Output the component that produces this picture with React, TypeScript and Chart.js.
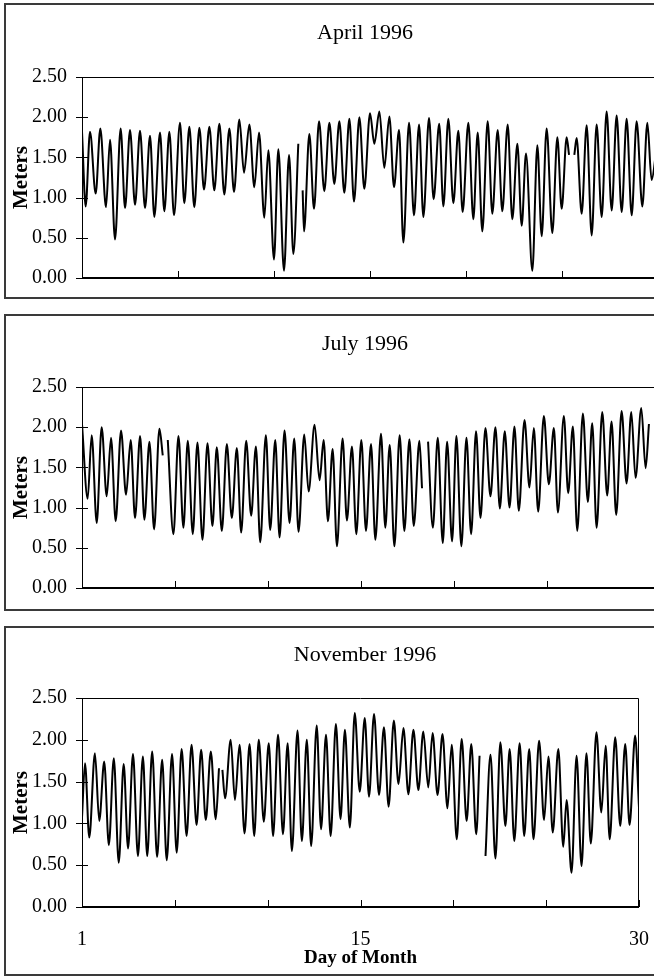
import React, { useEffect, useRef } from "react";
import { Chart, registerables } from "chart.js";

Chart.register(...registerables);

// ---- data (hours since start of month, water level in meters; null = gap) ----
const aprilHours = [
  0, 4.6, 10, 17.1, 22.9, 30, 35, 41.3, 48.3, 53.8, 60, 66.3, 72.5, 78.8, 85, 90.4, 97.5, 102.9, 109.2, 115,
  122.5, 127.9, 134.2, 140.4, 146.7, 152.5, 159.2, 165.4, 171.7, 177.9, 184.2, 190, 196.7, 202.5, 209.2, 215.4,
  221.3, 227.9, 232.9, 240, 245.4, 252.5, 258.8, 264.2, 270.4, 273, 275.8, 277.5, 284.2, 290, 296.3, 302.9, 309.2,
  315.4, 321.7, 327.9, 334.2, 340, 346.7, 352.9, 360, 365.4, 371.7, 377.9, 384.2, 390, 396.3, 401.7, 408.8, 415,
  421.3, 426.7, 433.8, 439.5, 446.5, 451.7, 457.9, 464.2, 470.4, 475.8, 482.9, 489.2, 494.6, 500.4, 507.1, 512.9,
  519.6, 525.4, 532.1, 537.9, 544.2, 549.6, 555, 562.9, 569.2, 574.6, 580.8, 587.9, 594.2, 599.6, 605.8, 608.8,
  612, 615.4, 618.3, 624.6, 630.8, 637.1, 643.3, 649.6, 655.8, 662.1, 668.3, 674.6, 680.8, 687.1, 693.3, 700.4,
  706.7, 712, 718,
];
const aprilLevels = [
  1.82, 0.89, 1.82, 1.05, 1.86, 0.88, 1.72, 0.48, 1.86, 0.87, 1.84, 0.91, 1.83, 0.87, 1.77, 0.76, 1.81, 0.83, 1.82, 0.78,
  1.93, 0.93, 1.88, 0.88, 1.87, 1.1, 1.88, 1.09, 1.92, 1.04, 1.86, 1.07, 1.97, 1.31, 1.91, 1.13,
  1.81, 0.75, 1.59, 0.23, 1.6, 0.09, 1.53, 0.3, 1.67, null, 1.09, 0.58, 1.79, 0.86, 1.95, 1.08, 1.93,
  1.17, 1.95, 1.06, 1.98, 0.95, 2.0, 1.11, 2.05, 1.67, 2.07, 1.37, 2.01, 1.13, 1.84, 0.44, 1.93, 0.78,
  1.91, 0.76, 1.99, 0.98, 1.92, 0.89, 1.98, 0.93, 1.83, 0.82, 1.93, 0.73, 1.81, 0.58, 1.95, 0.8,
  1.84, 0.83, 1.91, 0.73, 1.67, 0.65, 1.55, 0.09, 1.65, 0.52, 1.86, 0.56, 1.75, 0.86, 1.75, 1.53,
  null, 1.53, 1.74, 0.8, 1.9, 0.53, 1.91, 0.76, 2.07, 0.84, 2.02, 0.82, 1.98, 0.78, 1.95, 0.89,
  1.93, 1.22, 1.6,
];

const julyHours = [
  0, 7.3, 12.5, 19, 25.4, 31.9, 37.5, 43.5, 50.4, 56.9, 62.9, 68.5, 75, 80.6, 87.1, 93.1, 100, 104.3, 107, 110.8,
  118.1, 124.6, 131, 136.6, 143.1, 149.1, 155.6, 162.1, 168.5, 174.1, 180.6, 187.1, 193.5, 200, 205.6, 212.1,
  218.5, 224.6, 230.2, 237.5, 243.1, 249.6, 255.2, 261.6, 268.1, 274.1, 279.7, 287.1, 292.7, 300.4, 306.9, 312.1,
  317.7, 323.7, 329.3, 336.6, 342.2, 348.7, 354.3, 360.8, 366.8, 373.3, 378.9, 386.2, 391.8, 397.4, 403.5, 410.3,
  416.4, 422.9, 428.5, 435.8, 439.2, 443, 447, 453.2, 459.5, 466, 471.6, 478, 483.6, 490, 496.6, 502.6, 509,
  514.7, 521.1, 527.6, 534, 539.7, 546.1, 552.2, 558.6, 564.2, 571.6, 578, 583.6, 589.2, 596.6, 603, 609.5,
  614.7, 622.4, 628, 634, 639.7, 647, 653.4, 659, 664.7, 672, 678.4, 684, 690, 697, 703.4, 709.5, 715, 722.4,
  728, 732.3,
];
const julyLevels = [
  2.04, 1.11, 1.9, 0.81, 2.0, 1.14, 1.87, 0.83, 1.96, 1.16, 1.84, 0.87, 1.89, 0.85, 1.82, 0.73, 1.98, 1.65, null, 1.84,
  0.67, 1.89, 0.75, 1.83, 0.67, 1.81, 0.6, 1.8, 0.77, 1.75, 0.71, 1.79, 0.87, 1.74, 0.69, 1.83,
  0.9, 1.76, 0.57, 1.9, 0.72, 1.84, 0.63, 1.96, 0.81, 1.86, 0.7, 1.91, 1.2, 2.03, 1.34, 1.84,
  0.83, 1.73, 0.52, 1.86, 0.84, 1.76, 0.67, 1.84, 0.71, 1.79, 0.6, 1.92, 0.75, 1.78, 0.52, 1.9,
  0.71, 1.85, 0.77, 1.83, 1.24, null, 1.82, 0.75, 1.87, 0.56, 1.82, 0.58, 1.89, 0.52, 1.87, 0.67, 1.95,
  0.87, 1.99, 1.14, 2.0, 0.99, 1.95, 1.0, 2.01, 0.96, 2.09, 1.25, 1.99, 0.95, 2.14, 1.29, 1.99,
  0.94, 2.14, 1.18, 2.01, 0.71, 2.17, 1.07, 2.05, 0.75, 2.19, 1.15, 2.07, 0.91, 2.2, 1.3, 2.19, 1.37, 2.24,
  1.49, 2.04,
];

const novemberHours = [
  0, 3.9, 9.4, 16.7, 22.3, 28.7, 34.7, 41.1, 47.5, 53.9, 59.5, 65.9, 72.3, 78.7, 84.3, 90.7, 97.1, 103.6, 109.5,
  116.4, 122.4, 128.8, 135.2, 141.6, 148.1, 154, 160, 166.5, 172.9, 177.1, 179, 181.5, 184.9, 192.2, 197.7,
  203.7, 210.1, 216.6, 222.6, 228.5, 235, 241.4, 247, 253.4, 259.8, 265.8, 271.3, 278.6, 284.2, 290.6, 296.2,
  303.4, 309, 315.4, 321.4, 328.2, 334.2, 339.8, 346.2, 352.6, 359, 365.5, 371, 377.5, 383.9, 390.3, 396.3,
  403.1, 409.1, 415.5, 421.9, 428.4, 434.8, 441.2, 447.6, 453.2, 459.6, 466, 472.4, 477.9, 484.4, 490.8, 497.2,
  503.2, 509.6, 513.9, 517, 521.6, 528, 534.4, 540.8, 547.3, 552.8, 558.8, 565.7, 571.6, 578.1, 583.6, 590.9,
  597.3, 602.9, 608.5, 615.7, 622.1, 626.4, 632.8, 639.3, 645.7, 652.1, 657.7, 665, 671.3, 676.9, 682.1, 689.3,
  695.7, 702.2, 707.8, 715, 720,
];
const novemberLevels = [
  1.07, 1.72, 0.83, 1.84, 1.03, 1.74, 0.74, 1.78, 0.53, 1.71, 0.7, 1.83, 0.61, 1.8, 0.61, 1.86, 0.6, 1.76, 0.56,
  1.83, 0.65, 1.89, 0.85, 1.94, 0.98, 1.88, 1.04, 1.86, 1.05, 1.66, null, 1.64, 1.3, 2.0, 1.28,
  1.94, 0.88, 1.95, 0.85, 2.0, 1.02, 1.96, 0.85, 2.06, 0.87, 1.96, 0.67, 2.11, 0.79, 2.0, 0.73,
  2.17, 0.93, 2.06, 0.85, 2.19, 1.05, 2.12, 0.95, 2.32, 1.38, 2.26, 1.32, 2.31, 1.34, 2.15, 1.2,
  2.23, 1.47, 2.14, 1.35, 2.12, 1.4, 2.1, 1.43, 2.08, 1.34, 2.07, 1.18, 1.94, 0.81, 2.01, 1.03,
  1.95, 0.87, 1.81, null, 0.61, 1.82, 0.58, 1.97, 0.97, 1.89, 0.79, 1.96, 0.85, 1.89, 0.81, 1.99,
  1.04, 1.8, 0.89, 1.89, 0.72, 1.28, 0.41, 1.81, 0.49, 1.84, 0.76, 2.09, 1.13, 1.93, 0.81, 2.03,
  0.97, 1.95, 0.98, 2.05, 1.19,
];

const panelTitles = ["April 1996", "July 1996", "November 1996"];
const monthLengthHours = [720, 744, 720];
const levelTickValues = [0, 0.5, 1, 1.5, 2, 2.5];
const dayTickHours = [0, 360, 720];
const dayTickLabels = ["1", "15", "30"];
const yAxisTitle = "Meters";
const xAxisTitle = "Day of Month";

// ---- layout ----
const CANVAS_W = 670;
const SERIF = '"Liberation Serif", "Times New Roman", serif';

type PanelCfg = {
  top: number;
  height: number;
  boxTop: number;
  boxBottom: number;
  plotTop: number;
  plotBottom: number;
  plotRight: number;
  titleY: number;
  hours: number[];
  levels: (number | null)[];
  title: string;
  xMax: number;
  showX: boolean;
};

const panels: PanelCfg[] = [
  { top: 0, height: 305, boxTop: 4, boxBottom: 298, plotTop: 77, plotBottom: 279, plotRight: 658, titleY: 33,
    hours: aprilHours, levels: aprilLevels, title: panelTitles[0], xMax: monthLengthHours[0], showX: false },
  { top: 305, height: 310, boxTop: 10, boxBottom: 305, plotTop: 82, plotBottom: 286, plotRight: 658, titleY: 39,
    hours: julyHours, levels: julyLevels, title: panelTitles[1], xMax: monthLengthHours[1], showX: false },
  { top: 615, height: 362, boxTop: 12, boxBottom: 360, plotTop: 83, plotBottom: 292, plotRight: 643, titleY: 40,
    hours: novemberHours, levels: novemberLevels, title: panelTitles[2], xMax: monthLengthHours[2], showX: true },
];

function Panel({ cfg }: { cfg: PanelCfg }) {
  const ref = useRef<HTMLCanvasElement | null>(null);
  useEffect(() => {
    const canvas = ref.current;
    if (!canvas) return;
    const data = cfg.hours.map((h, i) => ({ x: h, y: cfg.levels[i] }));
    const H = cfg.height;

    const framePlugin = {
      id: "frame" + cfg.title.replace(/\s/g, ""),
      beforeDraw(chart: any) {
        const ctx = chart.ctx;
        ctx.save();
        ctx.fillStyle = "#fff";
        ctx.fillRect(0, 0, chart.width, chart.height);
        ctx.restore();
      },
      afterDraw(chart: any) {
        const { ctx, chartArea: a, scales } = chart;
        ctx.save();
        // outer chart box
        ctx.strokeStyle = "#3a3a3a";
        ctx.lineWidth = 2;
        ctx.strokeRect(5, cfg.boxTop, 655, cfg.boxBottom - cfg.boxTop);
        // plot frame
        ctx.strokeStyle = "#000";
        ctx.lineWidth = 1;
        ctx.beginPath();
        ctx.moveTo(a.left + 0.5, a.bottom);
        ctx.lineTo(a.left + 0.5, a.top + 0.5);
        ctx.lineTo(a.right - 0.5, a.top + 0.5);
        ctx.lineTo(a.right - 0.5, a.bottom);
        ctx.stroke();
        ctx.lineWidth = 2;
        ctx.beginPath();
        ctx.moveTo(a.left, a.bottom);
        ctx.lineTo(a.right, a.bottom);
        ctx.stroke();
        // y tick marks (cross)
        ctx.lineWidth = 1;
        for (const t of scales.y.ticks) {
          const py = Math.round(scales.y.getPixelForValue(t.value)) + 0.5;
          ctx.beginPath();
          ctx.moveTo(a.left - 6, py);
          ctx.lineTo(a.left + 6, py);
          ctx.stroke();
        }
        // x tick marks (inside)
        for (const t of scales.x.ticks) {
          if (t.value % 120 !== 0) continue;
          const px = Math.round(scales.x.getPixelForValue(t.value)) + 0.5;
          ctx.beginPath();
          ctx.moveTo(px, a.bottom);
          ctx.lineTo(px, a.bottom - 7);
          ctx.stroke();
        }
        // chart title
        ctx.fillStyle = "#000";
        ctx.textAlign = "center";
        ctx.textBaseline = "middle";
        ctx.font = `22px ${SERIF}`;
        ctx.fillText(cfg.title, 365, cfg.titleY);
        // y axis title
        ctx.save();
        ctx.translate(22, (a.top + a.bottom) / 2);
        ctx.rotate(-Math.PI / 2);
        ctx.font = `bold 21px ${SERIF}`;
        ctx.fillText(yAxisTitle, 0, 0);
        ctx.restore();
        if (cfg.showX) {
          ctx.font = `bold 19px ${SERIF}`;
          ctx.fillText(xAxisTitle, (a.left + a.right) / 2, a.bottom + 51);
        }
        ctx.restore();
      },
    };

    const chart = new Chart(canvas, {
      type: "line",
      data: {
        datasets: [
          {
            data: data as any,
            borderColor: "#000",
            borderWidth: 2,
            pointRadius: 0,
            fill: false,
            spanGaps: false,
            cubicInterpolationMode: "monotone",
          },
        ],
      },
      options: {
        responsive: false,
        maintainAspectRatio: false,
        animation: false,
        devicePixelRatio: 1,
        events: [],
        layout: { padding: { left: 0, top: cfg.plotTop, right: CANVAS_W - cfg.plotRight, bottom: 0 } },
        plugins: { legend: { display: false }, title: { display: false }, tooltip: { enabled: false } },
        scales: {
          x: {
            type: "linear",
            min: 0,
            max: cfg.xMax,
            grid: { display: false, drawTicks: false },
            border: { display: false },
            afterFit: (s: any) => {
              s.height = H - cfg.plotBottom;
            },
            ticks: {
              display: cfg.showX,
              stepSize: 120,
              autoSkip: false,
              maxRotation: 0,
              padding: 21,
              color: "#000",
              font: { family: SERIF, size: 20 },
              callback: (v: any) => {
                const i = dayTickHours.indexOf(Number(v));
                return i >= 0 ? dayTickLabels[i] : "";
              },
            },
          },
          y: {
            min: 0,
            max: 2.5,
            grid: { display: false, drawTicks: false },
            border: { display: false },
            afterFit: (s: any) => {
              s.width = 82;
            },
            afterBuildTicks: (s: any) => {
              s.ticks = levelTickValues.map((v) => ({ value: v }));
            },
            ticks: {
              padding: 15,
              color: "#000",
              font: { family: SERIF, size: 20 },
              callback: (v: any) => Number(v).toFixed(2),
            },
          },
        },
      },
      plugins: [framePlugin],
    });
    return () => chart.destroy();
  }, [cfg]);

  return (
    <canvas
      ref={ref}
      width={CANVAS_W}
      height={cfg.height}
      style={{ position: "absolute", left: 0, top: cfg.top, width: CANVAS_W, height: cfg.height }}
    />
  );
}

export default function App() {
  return (
    <div
      style={{
        position: "absolute",
        left: 0,
        top: 0,
        width: 654,
        height: 977,
        overflow: "hidden",
        background: "#fff",
      }}
    >
      {panels.map((p) => (
        <Panel key={p.title} cfg={p} />
      ))}
    </div>
  );
}
